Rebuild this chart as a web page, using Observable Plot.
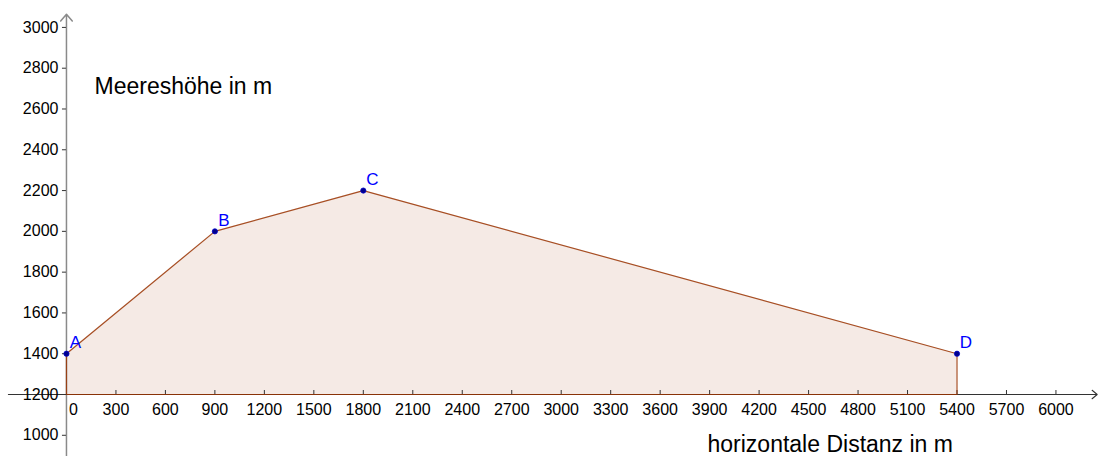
<!DOCTYPE html>
<html><head><meta charset="utf-8">
<script src="https://cdn.jsdelivr.net/npm/d3@7"></script>
<script src="https://cdn.jsdelivr.net/npm/@observablehq/plot@0.6"></script>
<style>body{margin:0;background:#fff}svg{display:block}</style>
</head><body><div id="chart"></div>
<script>
const pointNames = ["A", "B", "C", "D"];
const distances = [0, 900, 1800, 5400];
const heights = [1400, 2000, 2200, 1400];
const baseline = 1200;
const xTicks = [0, 300, 600, 900, 1200, 1500, 1800, 2100, 2400, 2700, 3000, 3300, 3600, 3900, 4200, 4500, 4800, 5100, 5400, 5700, 6000];
const yTicks = [1000, 1200, 1400, 1600, 1800, 2000, 2200, 2400, 2600, 2800, 3000];
const xAxisExtent = [-352, 6250];
const yAxisExtent = [896, 3065];
const yLabel = "Meereshöhe in m";
const xLabel = "horizontale Distanz in m";

const pts = pointNames.map((n, i) => ({name: n, x: distances[i], y: heights[i]}));
const poly = [
  ...pts,
  {x: distances[distances.length - 1], y: baseline},
  {x: distances[0], y: baseline},
  pts[0]
];

const font = "'Liberation Sans', Arial, sans-serif";
const brown = "rgb(153,51,0)";

const chart = Plot.plot({
  width: 1098, height: 456,
  margin: 0,
  style: {fontFamily: font, background: "#fff"},
  x: {domain: [-400, 6258], range: [0, 1098], axis: null},
  y: {domain: [896, 3132], range: [456, 0], axis: null},
  marks: [
    Plot.areaY(pts, {x: "x", y1: baseline, y2: "y", fill: brown, fillOpacity: 0.1}),
    // axes
    Plot.arrow([{}], {x1: 0, x2: 0, y1: yAxisExtent[0], y2: yAxisExtent[1], stroke: "#8a8a8a", strokeWidth: 1.5, headLength: 9, headAngle: 80}),
    Plot.arrow([{}], {x1: xAxisExtent[0], x2: xAxisExtent[1], y1: baseline, y2: baseline, stroke: "#333", strokeWidth: 1.1, headLength: 9, headAngle: 80}),
    Plot.ruleY(yTicks, {y: d => d, x1: 0, x2: 0, insetLeft: -4, stroke: "#333", strokeWidth: 1}),
    Plot.ruleX(xTicks.filter(d => d !== 0), {x: d => d, y1: baseline, y2: baseline, insetTop: -4, stroke: "#333", strokeWidth: 1}),
    // polygon outline
    Plot.line(poly, {x: "x", y: "y", stroke: brown, strokeWidth: 1.2, strokeOpacity: 0.85}),
    // tick labels
    Plot.text(yTicks, {x: 0, y: d => d, text: d => String(d), textAnchor: "end", dx: -8, fontSize: 16, fill: "#000"}),
    Plot.text(xTicks, {x: d => d, y: baseline, text: d => String(d), dy: 15, fontSize: 16, fill: "#000", textAnchor: "middle"}),
    // points
    Plot.dot(pts, {x: "x", y: "y", r: 2.6, fill: "#00008b", stroke: "#0000cc", strokeWidth: 0.8}),
    Plot.text(pts, {x: "x", y: "y", text: "name", dx: 9, dy: -11, fontSize: 17, fill: "#0000ff"}),
    // axis labels
    Plot.text([yLabel], {frameAnchor: "top-left", lineAnchor: "middle", dx: 94, dy: 86, textAnchor: "start", fontSize: 23, fill: "#000"}),
    Plot.text([xLabel], {frameAnchor: "top-left", lineAnchor: "middle", dx: 707, dy: 444, textAnchor: "start", fontSize: 23, fill: "#000"})
  ]
});
// shift the "0" label right like in the reference
d3.select(chart).selectAll("text").filter(function(){ return this.textContent === "0"; }).attr("dx", 7);
document.getElementById("chart").append(chart);
</script>
</body></html>
